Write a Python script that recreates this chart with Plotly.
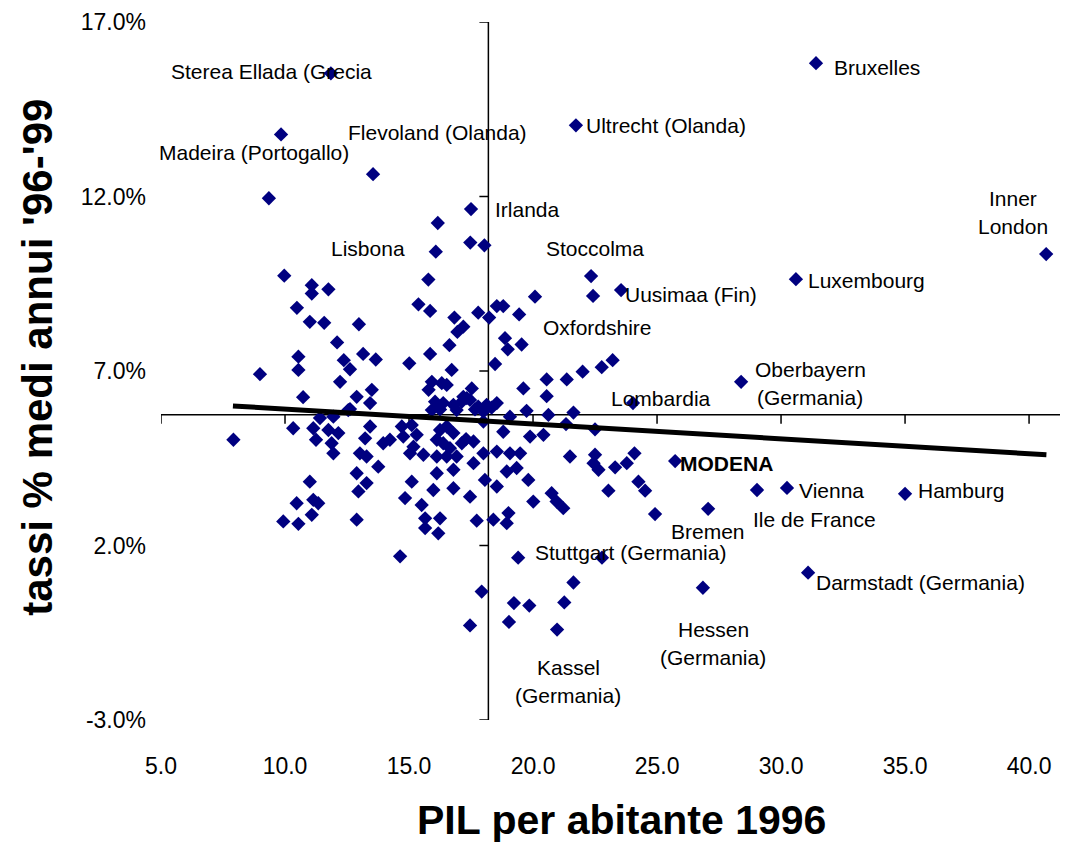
import plotly.graph_objects as go

# ---------------- data ----------------
pil_1996 = [
    11.85, 9.84, 13.55, 9.35, 17.5, 21.73, 31.41, 40.69, 30.6, 23.55, 22.34, 22.42,
    28.39, 24.03, 25.73, 30.24, 29.03, 35.0, 27.06, 31.09, 26.85, 22.78, 19.4, 20.97,
    16.16, 17.47, 18.04, 16.08, 9.97, 15.78, 11.08, 11.75, 11.08, 10.48, 15.38, 15.85,
    20.08, 16.83, 17.79, 18.23, 18.54, 18.8, 19.44, 11.0, 11.58, 12.98, 17.19,
    16.95, 18.87, 18.98, 19.54, 12.1, 16.63, 10.54, 10.54, 12.37, 12.62, 13.15, 13.66,
    15.85, 15.01, 16.72, 18.47, 8.99, 12.22, 15.92, 16.32, 16.52, 15.79, 13.5, 12.89,
    10.73, 13.43, 12.62, 19.61, 20.55, 20.55, 21.36, 17.53, 17.19,
    16.05, 16.38, 16.79, 17.13, 17.46, 17.79, 18.13, 18.54, 15.92, 16.92, 18.0,
    17.33, 16.25, 17.66, 18.33,
    19.74, 20.62, 21.63, 21.33, 22.5, 19.07, 11.41, 11.95, 12.55, 10.33, 7.92, 11.14,
    11.75, 12.15, 11.25, 11.88, 11.95, 13.43, 13.23, 14.71, 15.11, 13.96, 14.23, 14.77,
    15.31, 15.18, 16.25, 16.52, 16.79, 16.12, 16.38, 16.65, 17.13, 17.6, 18.0, 18.8,
    19.88, 20.42, 13.02, 13.29, 15.04, 15.58, 16.12, 16.52, 18.0, 18.54, 19.07, 19.48,
    21.49, 13.76, 17.6, 19.34, 18.94, 16.79, 16.12, 12.89, 11.0, 15.11, 18.06, 18.54,
    19.81, 13.29, 12.96, 15.98, 16.79, 17.46, 14.84, 15.51, 20.01, 20.75, 20.95, 21.22,
    11.14, 11.34, 10.47, 11.08, 9.93, 10.54, 12.89, 15.65, 16.25, 15.65, 16.18, 17.73,
    18.4, 19.01, 18.94, 14.64, 17.93, 19.23, 19.85, 21.26, 21.63, 17.46, 19.03,
    22.0, 22.77, 23.21, 22.5, 22.44, 22.64, 23.31, 23.78, 24.09, 23.04, 24.25, 24.52,
    24.92, 17.3, 16.92,
]
tassi_crescita = [
    15.53, 13.78, 12.64, 11.95, 11.64, 14.04, 15.82, 10.35, 9.63, 9.32, 9.72, 9.15,
    6.69, 6.08, 4.42, 3.65, 3.59, 3.48, 3.05, 1.22, 0.79, 1.65, 1.65, -0.41,
    11.24, 10.68, 10.6, 10.42, 9.73, 9.62, 9.46, 9.34, 9.22, 8.81, 8.91, 8.72,
    9.13, 8.53, 8.67, 8.53, 8.86, 8.86, 8.62, 8.41, 8.38, 8.34, 8.27,
    8.12, 7.94, 7.62, 7.76, 7.82, 7.74, 7.41, 7.03, 7.31, 7.05, 7.49, 7.33,
    7.49, 7.22, 7.03, 7.2, 6.91, 6.69, 6.69, 6.65, 6.6, 6.46, 6.46, 6.26,
    6.25, 6.08, 5.91, 6.5, 6.76, 6.28, 6.76, 6.5, 6.26,
    6.12, 6.08, 6.03, 6.12, 6.17, 5.98, 6.03, 6.08, 5.88, 5.88, 5.84,
    6.22, 5.9, 5.9, 5.95,
    5.86, 5.74, 5.81, 5.48, 5.33, 5.69, 5.65, 5.69, 5.88, 5.36, 5.03, 5.36,
    5.31, 5.22, 5.03, 4.93, 4.64, 5.41, 5.07, 5.41, 5.45, 4.93, 5.03, 5.12,
    5.17, 4.83, 5.31, 5.41, 5.22, 5.03, 4.93, 4.79, 4.93, 4.98, 5.55, 5.26,
    5.12, 5.17, 4.64, 4.55, 4.64, 4.6, 4.55, 4.55, 4.64, 4.69, 4.64, 4.64,
    4.55, 4.26, 4.36, 4.22, 4.12, 4.17, 4.07, 4.07, 3.83, 3.83, 3.88, 3.69,
    3.88, 3.79, 3.55, 3.59, 3.64, 3.4, 3.36, 3.16, 3.26, 3.5, 3.26, 3.07,
    3.31, 3.21, 3.21, 2.88, 2.69, 2.62, 2.74, 2.78, 2.78, 2.5, 2.35, 2.71,
    2.74, 2.93, 2.64, 1.69, 0.68, 0.35, 0.28, 0.37, 0.94, -0.29, -0.19,
    6.98, 7.11, 7.31, 4.6, 4.36, 4.17, 4.24, 4.36, 4.64, 3.57, 3.83, 3.57,
    2.9, 5.05, 4.55,
]

trend_x = [7.9, 40.7]
trend_y = [6.0, 4.6]

x_ticks = [5, 10, 15, 20, 25, 30, 35, 40]
x_tick_labels = ["5.0", "10.0", "15.0", "20.0", "25.0", "30.0", "35.0", "40.0"]
y_ticks = [-3, 2, 7, 12, 17]
y_tick_labels = ["-3.0%", "2.0%", "7.0%", "12.0%", "17.0%"]
x_cross = 18.2   # vertical axis crosses here
y_cross = 5.75   # horizontal axis crosses here

# label text, x, y, horizontal anchor, bold
labels = [
    ("Sterea Ellada (Grecia", 5.32, 15.59, "left", False),
    ("Madeira (Portogallo)", 8.73, 13.27, "center", False),
    ("Flevoland (Olanda)", 16.13, 13.84, "center", False),
    ("Ultrecht (Olanda)", 22.06, 14.04, "left", False),
    ("Bruxelles", 32.06, 15.70, "left", False),
    ("Inner\nLondon", 39.35, 11.55, "center", False),
    ("Irlanda", 18.39, 11.64, "left", False),
    ("Lisbona", 13.35, 10.52, "center", False),
    ("Stoccolma", 22.5, 10.52, "center", False),
    ("Luxembourg", 31.0, 9.58, "left", False),
    ("Uusimaa (Fin)", 23.63, 9.18, "left", False),
    ("Oxfordshire", 22.58, 8.26, "center", False),
    ("Oberbayern\n(Germania)", 31.17, 6.63, "center", False),
    ("Lombardia", 25.16, 6.20, "center", False),
    ("MODENA", 25.85, 4.34, "left", True),
    ("Vienna", 30.65, 3.57, "left", False),
    ("Hamburg", 35.44, 3.59, "left", False),
    ("Ile de France", 31.33, 2.74, "center", False),
    ("Bremen", 27.06, 2.40, "center", False),
    ("Stuttgart (Germania)", 20.0, 1.80, "left", False),
    ("Darmstadt (Germania)", 31.33, 0.93, "left", False),
    ("Hessen\n(Germania)", 27.26, -0.81, "center", False),
    ("Kassel\n(Germania)", 21.41, -1.90, "center", False),
]

FONT = "Liberation Sans, Arial, sans-serif"
NAVY = "#000080"

fig = go.Figure()
fig.add_trace(go.Scatter(
    x=pil_1996, y=tassi_crescita, mode="markers",
    marker=dict(symbol="diamond", size=11, color=NAVY, line=dict(width=0)),
    showlegend=False, hoverinfo="skip",
))
fig.add_trace(go.Scatter(
    x=trend_x, y=trend_y, mode="lines",
    line=dict(color="black", width=5),
    showlegend=False, hoverinfo="skip",
))

shapes = []
# crossing axes
shapes.append(dict(type="line", xref="x", yref="y", x0=x_cross, x1=x_cross,
                   y0=y_ticks[0], y1=y_ticks[-1], line=dict(color="black", width=1.5), layer="below"))
shapes.append(dict(type="line", xref="x", yref="y", x0=x_ticks[0], x1=41.6,
                   y0=y_cross, y1=y_cross, line=dict(color="black", width=1.5), layer="below"))
for v in x_ticks:
    shapes.append(dict(type="line", xref="x", yref="y", ysizemode="pixel", yanchor=y_cross,
                       x0=v, x1=v, y0=0, y1=-9, line=dict(color="black", width=1.5), layer="below"))
for v in y_ticks:
    shapes.append(dict(type="line", xref="x", yref="y", xsizemode="pixel", xanchor=x_cross,
                       y0=v, y1=v, x0=0, x1=-9, line=dict(color="black", width=1.5), layer="below"))

annotations = []
for text, lx, ly, anchor, bold in labels:
    lines = text.split("\n")
    n = len(lines)
    for i, ln in enumerate(lines):
        annotations.append(dict(
            x=lx, y=ly, xref="x", yref="y", text=f"<b>{ln}</b>" if bold else ln,
            showarrow=False, xanchor=anchor, yanchor="middle",
            yshift=(n - 1) / 2 * 28 - i * 28,
            font=dict(family=FONT, size=21, color="black"),
        ))

annotations.append(dict(
    x=0.508, y=-0.143, xref="paper", yref="paper", text="<b>PIL per abitante 1996</b>",
    showarrow=False, xanchor="center", yanchor="middle",
    font=dict(family=FONT, size=41, color="black"),
))
annotations.append(dict(
    x=-0.137, y=0.52, xref="paper", yref="paper", text="<b>tassi % medi annui '96-'99</b>",
    showarrow=False, xanchor="center", yanchor="middle", textangle=-90,
    font=dict(family=FONT, size=42, color="black"),
))

# page body has an 8px margin, so the figure is sized to fit the 1068x843 window
fig.update_layout(
    width=1060, height=835,
    margin=dict(l=153, r=0, t=14, b=123),
    paper_bgcolor="white", plot_bgcolor="white",
    font=dict(family=FONT, color="black"),
    shapes=shapes, annotations=annotations,
    xaxis=dict(range=[5, 41.57], tickvals=x_ticks, ticktext=x_tick_labels,
               showgrid=False, zeroline=False, showline=False, ticks="",
               tickfont=dict(size=23, family=FONT, color="black"), ticklabelstandoff=30),
    yaxis=dict(range=[-3, 17], tickvals=y_ticks, ticktext=y_tick_labels,
               showgrid=False, zeroline=False, showline=False, ticks="",
               tickfont=dict(size=23, family=FONT, color="black"), ticklabelstandoff=14),
)

fig.write_html("out.html")
